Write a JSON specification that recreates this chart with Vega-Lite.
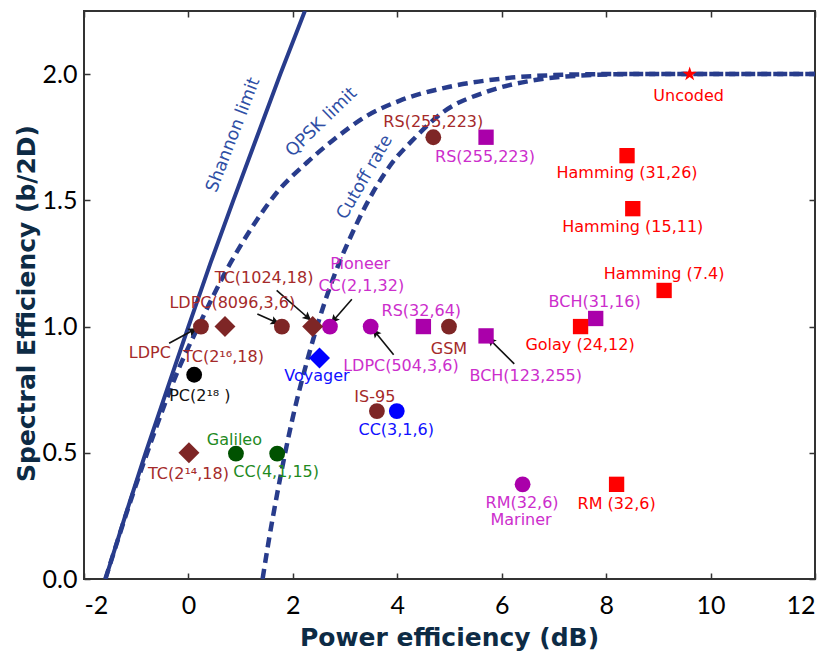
{
  "$schema": "https://vega.github.io/schema/vega-lite/v6.json",
  "width": 731,
  "height": 568,
  "autosize": {"type": "none"},
  "padding": {"left": 84, "top": 11, "right": 23, "bottom": 74},
  "background": "white",
  "config": {
    "view": {"stroke": "#333333", "strokeWidth": 2},
    "axis": {
      "grid": false,
      "domain": false,
      "tickColor": "#333333",
      "tickWidth": 1.5,
      "tickSize": -6,
      "labelFont": "Lato",
      "labelFontSize": 25,
      "labelColor": "#000000",
      "titleFont": "DejaVu Sans",
      "titleFontSize": 25,
      "titleFontWeight": "bold",
      "titleColor": "#0d2b45"
    }
  },
  "datasets": {
    "shannon": [
      {"x": -1.59, "y": 0.0}, {"x": -1.21, "y": 0.25}, {"x": -0.82, "y": 0.5},
      {"x": -0.41, "y": 0.75}, {"x": 0.0, "y": 1.0}, {"x": 0.42, "y": 1.25},
      {"x": 0.86, "y": 1.5}, {"x": 1.31, "y": 1.75}, {"x": 1.76, "y": 2.0},
      {"x": 2.23, "y": 2.25}
    ],
    "qpsk": [
      {"x": -1.59, "y": 0.0}, {"x": -1.07, "y": 0.333}, {"x": -0.79, "y": 0.5},
      {"x": -0.5, "y": 0.667}, {"x": -0.15, "y": 0.85}, {"x": 0.19, "y": 1.0},
      {"x": 0.8, "y": 1.25}, {"x": 1.24, "y": 1.4}, {"x": 1.69, "y": 1.53},
      {"x": 2.27, "y": 1.65}, {"x": 2.78, "y": 1.74}, {"x": 3.42, "y": 1.835},
      {"x": 4.05, "y": 1.895}, {"x": 5.0, "y": 1.95}, {"x": 6.0, "y": 1.982},
      {"x": 7.0, "y": 1.996}, {"x": 8.0, "y": 2.0}, {"x": 12.0, "y": 2.0}
    ],
    "cutoff": [
      {"x": 1.42, "y": 0.0}, {"x": 1.53, "y": 0.141}, {"x": 1.7, "y": 0.338},
      {"x": 1.99, "y": 0.632}, {"x": 2.3, "y": 0.884}, {"x": 2.61, "y": 1.096},
      {"x": 3.25, "y": 1.419}, {"x": 3.85, "y": 1.634}, {"x": 4.35, "y": 1.75},
      {"x": 4.88, "y": 1.85}, {"x": 5.71, "y": 1.93}, {"x": 6.6, "y": 1.975},
      {"x": 7.5, "y": 1.994}, {"x": 8.5, "y": 2.0}, {"x": 12.0, "y": 2.0}
    ],
    "codes": [
      {"code": "Uncoded", "x": 9.6, "y": 2.0, "family": "red", "marker": "star"},
      {"code": "RS(255,223) a", "x": 4.69, "y": 1.75, "family": "brown", "marker": "circle"},
      {"code": "RS(255,223) b", "x": 5.7, "y": 1.75, "family": "magenta", "marker": "square"},
      {"code": "Hamming (31,26)", "x": 8.4, "y": 1.677, "family": "red", "marker": "square"},
      {"code": "Hamming (15,11)", "x": 8.51, "y": 1.467, "family": "red", "marker": "square"},
      {"code": "Hamming (7.4)", "x": 9.11, "y": 1.143, "family": "red", "marker": "square"},
      {"code": "BCH(31,16)", "x": 7.8, "y": 1.032, "family": "magenta", "marker": "square"},
      {"code": "Golay (24,12)", "x": 7.51, "y": 1.0, "family": "red", "marker": "square"},
      {"code": "BCH(123,255)", "x": 5.7, "y": 0.963, "family": "magenta", "marker": "square"},
      {"code": "GSM", "x": 4.99, "y": 1.0, "family": "brown", "marker": "circle"},
      {"code": "RS(32,64)", "x": 4.5, "y": 1.0, "family": "magenta", "marker": "square"},
      {"code": "LDPC(504,3,6)", "x": 3.49, "y": 1.0, "family": "magenta", "marker": "circle"},
      {"code": "Pioneer CC(2,1,32)", "x": 2.71, "y": 1.0, "family": "magenta", "marker": "circle"},
      {"code": "TC(1024,18)", "x": 2.38, "y": 1.0, "family": "brown", "marker": "diamond"},
      {"code": "LDPC(8096,3,6)", "x": 1.79, "y": 1.0, "family": "brown", "marker": "circle"},
      {"code": "TC(2^16,18)", "x": 0.7, "y": 1.0, "family": "brown", "marker": "diamond"},
      {"code": "LDPC", "x": 0.24, "y": 1.0, "family": "brown", "marker": "circle"},
      {"code": "PC(2^18)", "x": 0.11, "y": 0.809, "family": "black", "marker": "circle"},
      {"code": "Voyager", "x": 2.51, "y": 0.875, "family": "blue", "marker": "diamond"},
      {"code": "IS-95", "x": 3.61, "y": 0.665, "family": "brown", "marker": "circle"},
      {"code": "CC(3,1,6)", "x": 3.99, "y": 0.665, "family": "blue", "marker": "circle"},
      {"code": "Galileo", "x": 0.91, "y": 0.497, "family": "green", "marker": "circle"},
      {"code": "CC(4,1,15)", "x": 1.7, "y": 0.497, "family": "green", "marker": "circle"},
      {"code": "TC(2^14,18)", "x": 0.01, "y": 0.5, "family": "brown", "marker": "diamond"},
      {"code": "RM(32,6) Mariner", "x": 6.4, "y": 0.375, "family": "magenta", "marker": "circle"},
      {"code": "RM (32,6)", "x": 8.2, "y": 0.375, "family": "red", "marker": "square"}
    ],
    "labels": [
      {"x": 9.58, "y": 1.915, "text": "Uncoded", "family": "red"},
      {"x": 4.69, "y": 1.812, "text": "RS(255,223)", "family": "brown"},
      {"x": 5.68, "y": 1.673, "text": "RS(255,223)", "family": "magenta"},
      {"x": 8.4, "y": 1.607, "text": "Hamming (31,26)", "family": "red"},
      {"x": 8.51, "y": 1.393, "text": "Hamming (15,11)", "family": "red"},
      {"x": 9.11, "y": 1.209, "text": "Hamming (7.4)", "family": "red"},
      {"x": 7.78, "y": 1.097, "text": "BCH(31,16)", "family": "magenta"},
      {"x": 7.5, "y": 0.925, "text": "Golay (24,12)", "family": "red"},
      {"x": 6.46, "y": 0.805, "text": "BCH(123,255)", "family": "magenta"},
      {"x": 4.99, "y": 0.911, "text": "GSM", "family": "brown"},
      {"x": 4.46, "y": 1.063, "text": "RS(32,64)", "family": "magenta"},
      {"x": 4.07, "y": 0.842, "text": "LDPC(504,3,6)", "family": "magenta"},
      {"x": 3.29, "y": 1.247, "text": "Pioneer", "family": "magenta"},
      {"x": 3.31, "y": 1.161, "text": "CC(2,1,32)", "family": "magenta"},
      {"x": 1.45, "y": 1.192, "text": "TC(1024,18)", "family": "brown"},
      {"x": 0.84, "y": 1.095, "text": "LDPC(8096,3,6)", "family": "brown"},
      {"x": -0.74, "y": 0.895, "text": "LDPC", "family": "brown"},
      {"x": 0.67, "y": 0.881, "text": "TC(2¹⁶,18)", "family": "brown"},
      {"x": 0.22, "y": 0.723, "text": "PC(2¹⁸ )", "family": "black"},
      {"x": 2.46, "y": 0.805, "text": "Voyager", "family": "blue"},
      {"x": 3.57, "y": 0.72, "text": "IS-95", "family": "brown"},
      {"x": 3.98, "y": 0.591, "text": "CC(3,1,6)", "family": "blue"},
      {"x": 0.88, "y": 0.549, "text": "Galileo", "family": "green"},
      {"x": 1.68, "y": 0.424, "text": "CC(4,1,15)", "family": "green"},
      {"x": 0.0, "y": 0.417, "text": "TC(2¹⁴,18)", "family": "brown"},
      {"x": 6.39, "y": 0.3, "text": "RM(32,6)", "family": "magenta"},
      {"x": 6.37, "y": 0.235, "text": "Mariner", "family": "magenta"},
      {"x": 8.2, "y": 0.298, "text": "RM (32,6)", "family": "red"}
    ],
    "arrows": [
      {"x": -0.37, "y": 0.934, "x2": 0.16, "y2": 0.993, "heading": 61.6},
      {"x": 1.32, "y": 1.05, "x2": 1.74, "y2": 1.011, "heading": 114.4},
      {"x": 1.69, "y": 1.143, "x2": 2.35, "y2": 1.024, "heading": 131.2},
      {"x": 3.13, "y": 1.108, "x2": 2.73, "y2": 1.013, "heading": 221.2},
      {"x": 3.93, "y": 0.888, "x2": 3.53, "y2": 0.99, "heading": 321.3},
      {"x": 6.24, "y": 0.852, "x2": 5.73, "y2": 0.957, "heading": 314.6}
    ],
    "curveLabels": [
      {"x": 0.86, "y": 1.759, "text": "Shannon limit"},
      {"x": 2.55, "y": 1.809, "text": "QPSK limit"},
      {"x": 3.38, "y": 1.591, "text": "Cutoff rate"}
    ]
  },
  "layer": [
    {
      "data": {"name": "shannon"},
      "mark": {"type": "line", "color": "#283c8c", "strokeWidth": 4, "clip": true},
      "encoding": {
        "x": {
          "field": "x", "type": "quantitative",
          "scale": {"domain": [-2, 12], "nice": false, "zero": false},
          "axis": {
            "orient": "bottom",
            "values": [-2, 0, 2, 4, 6, 8, 10, 12],
            "labelExpr": "'' + datum.value",
            "labelPadding": 20,
            "title": "Power efficiency (dB)",
            "titleX": 365,
            "titleY": 46,
            "titleBaseline": "top"
          }
        },
        "y": {
          "field": "y", "type": "quantitative",
          "scale": {"domain": [0, 2.25], "nice": false, "zero": false},
          "axis": {
            "orient": "left",
            "values": [0, 0.5, 1, 1.5, 2],
            "format": ".1f",
            "labelPadding": 13,
            "title": "Spectral Efficiency (b/2D)",
            "titleX": -70,
            "titleY": 292,
            "titleAngle": -90,
            "titleBaseline": "top"
          }
        }
      }
    },
    {
      "data": {"name": "qpsk"},
      "mark": {"type": "line", "color": "#283c8c", "strokeWidth": 4.5, "strokeDash": [10, 6], "interpolate": "monotone", "clip": true},
      "encoding": {
        "x": {"field": "x", "type": "quantitative",
          "axis": {"orient": "top", "values": [-2, 0, 2, 4, 6, 8, 10, 12], "labels": false, "title": null}},
        "y": {"field": "y", "type": "quantitative",
          "axis": {"orient": "right", "values": [0, 0.5, 1, 1.5, 2], "labels": false, "title": null}}
      }
    },
    {
      "data": {"name": "cutoff"},
      "mark": {"type": "line", "color": "#283c8c", "strokeWidth": 4.5, "strokeDash": [10, 6], "interpolate": "monotone", "clip": true},
      "encoding": {
        "x": {"field": "x", "type": "quantitative", "axis": null},
        "y": {"field": "y", "type": "quantitative", "axis": null}
      }
    },
    {
      "data": {"name": "curveLabels"},
      "transform": [{"filter": "datum.text == 'Shannon limit'"}],
      "mark": {"type": "text", "angle": 291, "font": "DejaVu Sans", "fontSize": 17.5, "color": "#2f4fa5"},
      "encoding": {
        "x": {"field": "x", "type": "quantitative", "axis": null},
        "y": {"field": "y", "type": "quantitative", "axis": null},
        "text": {"field": "text"}
      }
    },
    {
      "data": {"name": "curveLabels"},
      "transform": [{"filter": "datum.text == 'QPSK limit'"}],
      "mark": {"type": "text", "angle": 316, "font": "DejaVu Sans", "fontSize": 17.5, "color": "#2f4fa5"},
      "encoding": {
        "x": {"field": "x", "type": "quantitative", "axis": null},
        "y": {"field": "y", "type": "quantitative", "axis": null},
        "text": {"field": "text"}
      }
    },
    {
      "data": {"name": "curveLabels"},
      "transform": [{"filter": "datum.text == 'Cutoff rate'"}],
      "mark": {"type": "text", "angle": 300, "font": "DejaVu Sans", "fontSize": 17.5, "color": "#2f4fa5"},
      "encoding": {
        "x": {"field": "x", "type": "quantitative", "axis": null},
        "y": {"field": "y", "type": "quantitative", "axis": null},
        "text": {"field": "text"}
      }
    },
    {
      "data": {"name": "arrows"},
      "mark": {"type": "rule", "color": "#111111", "strokeWidth": 1.6},
      "encoding": {
        "x": {"field": "x", "type": "quantitative", "axis": null},
        "y": {"field": "y", "type": "quantitative", "axis": null},
        "x2": {"field": "x2"},
        "y2": {"field": "y2"}
      }
    },
    {
      "data": {"name": "arrows"},
      "mark": {"type": "point", "filled": true, "color": "#111111", "opacity": 1, "size": 300,
        "shape": "M0,0L-0.5,1L0,0.8L0.5,1Z"},
      "encoding": {
        "x": {"field": "x2", "type": "quantitative", "axis": null},
        "y": {"field": "y2", "type": "quantitative", "axis": null},
        "angle": {"field": "heading", "type": "quantitative", "scale": null}
      }
    },
    {
      "data": {"name": "codes"},
      "mark": {"type": "point", "filled": true, "opacity": 1},
      "encoding": {
        "x": {"field": "x", "type": "quantitative", "axis": null},
        "y": {"field": "y", "type": "quantitative", "axis": null},
        "shape": {
          "condition": [
            {"test": "datum.marker == 'square'", "value": "square"},
            {"test": "datum.marker == 'diamond'", "value": "diamond"},
            {"test": "datum.marker == 'star'", "value": "M0,-1L0.225,-0.309L0.951,-0.309L0.363,0.118L0.588,0.809L0,0.382L-0.588,0.809L-0.363,0.118L-0.951,-0.309L-0.225,-0.309Z"}
          ],
          "value": "circle"
        },
        "size": {
          "condition": [
            {"test": "datum.marker == 'square'", "value": 235},
            {"test": "datum.marker == 'diamond'", "value": 440},
            {"test": "datum.marker == 'star'", "value": 230}
          ],
          "value": 250
        },
        "color": {
          "condition": [
            {"test": "datum.family == 'brown'", "value": "#7e2626"},
            {"test": "datum.family == 'magenta'", "value": "#aa00aa"},
            {"test": "datum.family == 'red'", "value": "#ff0000"},
            {"test": "datum.family == 'blue'", "value": "#0000ff"},
            {"test": "datum.family == 'green'", "value": "#005200"}
          ],
          "value": "#000000"
        }
      }
    },
    {
      "data": {"name": "labels"},
      "mark": {"type": "text", "font": "DejaVu Sans", "fontSize": 16, "align": "center", "baseline": "middle"},
      "encoding": {
        "x": {"field": "x", "type": "quantitative", "axis": null},
        "y": {"field": "y", "type": "quantitative", "axis": null},
        "text": {"field": "text"},
        "color": {
          "condition": [
            {"test": "datum.family == 'brown'", "value": "#a52a2a"},
            {"test": "datum.family == 'magenta'", "value": "#cc2ecc"},
            {"test": "datum.family == 'red'", "value": "#ff0000"},
            {"test": "datum.family == 'blue'", "value": "#1010ff"},
            {"test": "datum.family == 'green'", "value": "#1f8a1f"}
          ],
          "value": "#111111"
        }
      }
    }
  ],
  "resolve": {"axis": {"x": "independent", "y": "independent"}}
}
